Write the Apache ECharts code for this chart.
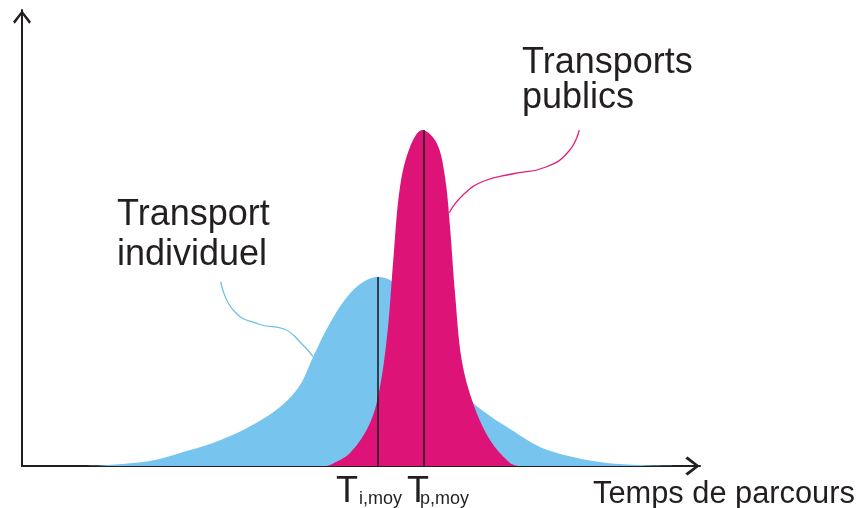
<!DOCTYPE html>
<html><head><meta charset="utf-8">
<script src="https://cdn.jsdelivr.net/npm/echarts@6/dist/echarts.min.js"></script>
<style>html,body{margin:0;padding:0;background:#fff}#c{width:858px;height:508px}</style>
</head><body><div id="c"></div>
<script>
// Travel time (arbitrary units) vs frequency (arbitrary units)
const individualCurve = [[58,0],[78,0.5],[108,2.7],[133,6],[158,13],[191,23],[225,38],[258,59],[278,81],[291,109],[308,143],[325,169],[341,184],[356,189],[368,186],[378,176],[388,161],[408,126],[428,91],[443,71],[451,63],[468,50],[485,39],[518,19],[551,9],[585,3],[618,1],[658,0]];
const publicCurve = [[303,0],[308,1],[328,13],[348,43],[358,79],[366,139],[371.3,206],[378,279],[388,319],[400.3,336],[414.7,323],[423,289],[428,239],[433,173],[439.7,106],[451,63],[468,26],[488,3],[496,0]];
const meanIndividual = [[356,0],[356,189]];
const meanPublic = [[402,0],[402,336]];
const leaderIndividual = [[198.7,184.3],[212,155],[238,141.5],[262,137],[280,122],[291,109.3]];
const leaderPublic = [[557.3,336],[547,315],[524,299],[490,292],[462,285],[441,271],[427.3,253.3]];
const labelIndividual = ['Transport','individuel'];
const labelPublic = ['Transports','publics'];
const axisTitle = 'Temps de parcours';
const meanLabels = [['T','i,moy'],['T','p,moy']];

const BLUE = '#77c5ef', MAG = '#de1378', INK = '#231f20';
const FONT = '"Liberation Sans", Arial, Helvetica, sans-serif';
const chevron = 'path://M50,0 L100,64 L90,76 L50,22 L10,76 L0,64 Z';

function txt(s, x, yBase, size) {
  return {type:'text', x:x, y:yBase + 3 - 0.3465*size, style:{text:s, fill:INK, font:size+'px '+FONT, verticalAlign:'middle', align:'left'}};
}

const chart = echarts.init(document.getElementById('c'), null, {renderer:'canvas'});
chart.setOption({
  animation:false,
  grid:{left:22, top:10, width:678, height:456},
  xAxis:{type:'value', min:0, max:678, splitLine:{show:false}, axisTick:{show:false}, axisLabel:{show:false},
    axisLine:{show:true, onZero:false, lineStyle:{color:INK, width:2}, symbol:['none', chevron], symbolSize:[19,15], symbolOffset:[0,-7.5]}},
  yAxis:{type:'value', min:0, max:456, splitLine:{show:false}, axisTick:{show:false}, axisLabel:{show:false},
    axisLine:{show:true, onZero:false, lineStyle:{color:INK, width:2}, symbol:['none', chevron], symbolSize:[18,14], symbolOffset:[0,-7]}},
  series:[
    {type:'line', data:individualCurve, smooth:0.35, showSymbol:false, lineStyle:{width:0}, areaStyle:{color:BLUE, opacity:1}, z:2},
    {type:'line', data:publicCurve, smooth:0.35, showSymbol:false, lineStyle:{width:0}, areaStyle:{color:MAG, opacity:1}, z:3},
    {type:'line', data:meanIndividual, showSymbol:false, lineStyle:{color:INK, width:1.6}, z:4},
    {type:'line', data:meanPublic, showSymbol:false, lineStyle:{color:INK, width:1.6}, z:4},
    {type:'line', data:leaderIndividual, smooth:0.5, showSymbol:false, lineStyle:{color:'#6cc0ec', width:1.3}, z:4},
    {type:'line', data:leaderPublic, smooth:0.5, showSymbol:false, lineStyle:{color:'#e0207d', width:1.3}, z:4}
  ],
  graphic:[
    txt(labelIndividual[0], 117, 225, 36),
    txt(labelIndividual[1], 117, 265, 36),
    txt(labelPublic[0], 522, 73, 36),
    txt(labelPublic[1], 522, 108, 36),
    txt(axisTitle, 593, 502, 30.8),
    txt(meanLabels[0][0], 336, 502, 36),
    txt(meanLabels[0][1], 359, 502, 18),
    txt(meanLabels[1][0], 407, 502, 36),
    txt(meanLabels[1][1], 420, 502, 18)
  ]
});
</script></body></html>
